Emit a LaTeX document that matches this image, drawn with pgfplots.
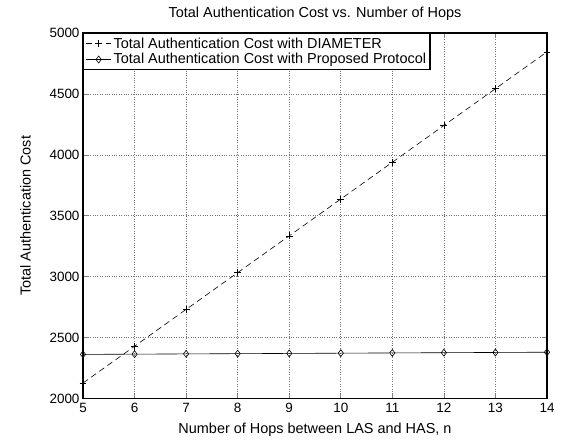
\documentclass[border=0pt]{standalone}
\usepackage{pgfplots}
\pgfplotsset{compat=1.18}
\usepackage{fontspec}
\setmainfont{Liberation Sans}
\begin{document}
\begin{tikzpicture}
\begin{axis}[
  scale only axis,
  width=464bp, height=365.5bp,
  xmin=5, xmax=14, ymin=2000, ymax=5000,
  xtick={5,6,...,14},
  ytick={2000,2500,...,5000},
  tick align=inside,
  tick pos=both,
  major tick length=5bp,
  major tick style={line width=0.6pt},
  scaled y ticks=false,
  /pgf/number format/assume math mode=true,
  /pgf/number format/1000 sep={},
  tick label style={font=\fontsize{13.5}{16}\selectfont},
  xticklabel style={yshift=-1bp},
  label style={font=\fontsize{14.5}{17}\selectfont},
  title style={font=\fontsize{14.5}{17}\selectfont, yshift=3bp},
  grid=major,
  major grid style={black!55, dotted, line width=0.6pt},
  axis line style={black, line width=1.2pt},
  title={Total Authentication Cost vs. Number of Hops},
  xlabel={Number of Hops between LAS and HAS, n},
  ylabel={Total Authentication Cost},
  xlabel style={yshift=-4bp},
  ylabel style={yshift=12bp},
  legend style={at={(0,1)}, anchor=north west, font=\fontsize{14.5}{17}\selectfont, draw=black, line width=1.2pt, inner sep=2pt, row sep=0pt, legend cell align=left},
  legend image code/.code={\draw[mark repeat=2,mark phase=2,line width=0.6pt] plot coordinates {(0.1cm,0cm) (0.55cm,0cm) (1.0cm,0cm)};},
]
\addplot[black, dash pattern=on 6bp off 4bp, line width=0.6pt, mark=+, mark size=3.5pt, mark options={solid}] coordinates {
(5,2127) (6,2429) (7,2731) (8,3033) (9,3335) (10,3637) (11,3939) (12,4241) (13,4543) (14,4845)};
\addlegendentry{Total Authentication Cost with DIAMETER}
\addplot[black, line width=0.6pt, mark=diamond, mark size=3.5pt, mark options={solid}] coordinates {
(5,2362) (6,2364) (7,2366) (8,2368) (9,2370) (10,2372) (11,2374) (12,2376) (13,2378) (14,2380)};
\addlegendentry{Total Authentication Cost with Proposed Protocol}
\end{axis}
\pgfresetboundingbox
\path (current axis.south west) ++(-83bp,-46.5bp) coordinate (a);
\path (current axis.north east) ++(22bp,33bp) coordinate (b);
\path[use as bounding box] (a) rectangle (b);
\end{tikzpicture}
\end{document}
